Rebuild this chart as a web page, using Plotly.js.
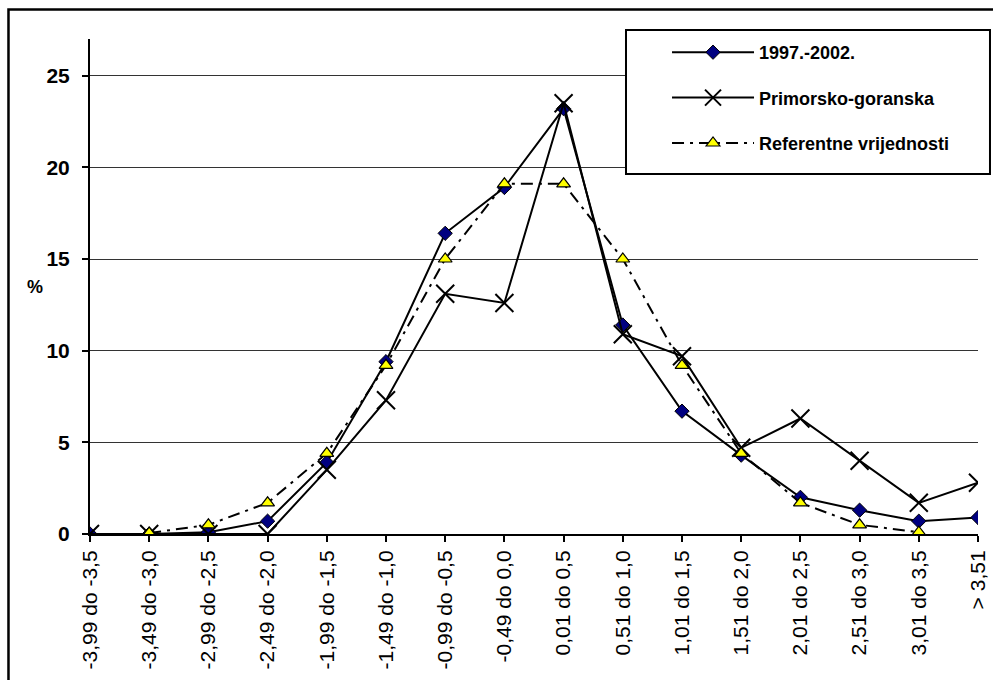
<!DOCTYPE html>
<html>
<head>
<meta charset="utf-8">
<script src="https://cdn.plot.ly/plotly-3.0.1.min.js"></script>
<style>html,body{margin:0;padding:0;background:#fff;}#chart{width:993px;height:680px;}</style>
</head>
<body>
<div id="chart"></div>
<script>
const categories = ["-3,99 do -3,5","-3,49 do -3,0","-2,99 do -2,5","-2,49 do -2,0","-1,99 do -1,5","-1,49 do -1,0","-0,99 do -0,5","-0,49 do 0,0","0,01 do 0,5","0,51 do 1,0","1,01 do 1,5","1,51 do 2,0","2,01 do 2,5","2,51 do 3,0","3,01 do 3,5","> 3,51"];
const series1997 = [0, 0, 0.1, 0.7, 3.9, 9.4, 16.4, 18.9, 23.2, 11.4, 6.7, 4.3, 2.0, 1.3, 0.7, 0.9];
const seriesPG = [0, 0, 0, 0, 3.5, 7.3, 13.1, 12.6, 23.5, 10.9, 9.7, 4.7, 6.3, 4.0, 1.7, 2.8];
const seriesRef = [null, 0.05, 0.5, 1.7, 4.4, 9.2, 15.0, 19.1, 19.1, 15.0, 9.2, 4.4, 1.7, 0.5, 0.1, null];
const yTicks = [0, 5, 10, 15, 20, 25];
const names = ["1997.-2002.", "Primorsko-goranska", "Referentne vrijednosti"];

const FONT = "Arial, 'Liberation Sans', sans-serif";

const traces = [
  {x: categories, y: series1997, name: names[0], type: "scatter", mode: "lines+markers", legendgroup: "a",
   line: {color: "#000", width: 2},
   marker: {symbol: "diamond", size: 11, color: "#000080", line: {color: "#000", width: 1}}},
  {x: categories, y: seriesPG, name: names[1], type: "scatter", mode: "lines+markers", legendgroup: "b",
   line: {color: "#000", width: 2},
   marker: {symbol: "x-thin-open", size: 18, color: "#000", line: {color: "#000", width: 2}}},
  {x: categories, y: seriesRef, name: names[2], type: "scatter", mode: "lines+markers", legendgroup: "c",
   connectgaps: false,
   line: {color: "#000", width: 2, dash: "12px,6px,3px,6px"},
   marker: {symbol: "triangle-up", size: 12, color: "#FFFF00", line: {color: "#000", width: 1.2}}}
];

const layout = {
  width: 993, height: 680,
  margin: {l: 90, r: 15, t: 39, b: 146},
  paper_bgcolor: "#fff", plot_bgcolor: "#fff",
  font: {family: FONT, color: "#000"},
  showlegend: true,
  legend: {
    x: 0.6498, xanchor: "left", y: 1.0101, yanchor: "top",
    bgcolor: "rgba(0,0,0,0)", bordercolor: "#000", borderwidth: 0,
    font: {family: FONT, size: 18, color: "#000", weight: "bold"},
    tracegroupgap: 19, itemwidth: 82
  },
  xaxis: {
    type: "category", categoryorder: "array", categoryarray: categories,
    range: [0, 15], showline: true, linecolor: "#000", linewidth: 2,
    ticks: "outside", ticklen: 6, tickwidth: 2, tickcolor: "#000",
    tickangle: -90, tickfont: {family: FONT, size: 21, color: "#000"},
    showgrid: false, zeroline: false, fixedrange: true
  },
  yaxis: {
    range: [0, 27], tickvals: yTicks, ticktext: yTicks.map(String),
    showline: true, linecolor: "#000", linewidth: 2,
    ticks: "outside", ticklen: 6, tickwidth: 2, tickcolor: "#000",
    tickfont: {family: FONT, size: 21, color: "#000", weight: "bold"},
    ticklabelstandoff: 8,
    showgrid: true, gridcolor: "#333", gridwidth: 1, zeroline: false, fixedrange: true
  },
  annotations: [
    {text: "%", xref: "paper", yref: "y", x: -0.0625, xanchor: "center", y: 13.5, showarrow: false,
     font: {family: FONT, size: 18, color: "#000", weight: "bold"}}
  ],
  shapes: [
    {type: "rect", xref: "paper", yref: "paper", x0: -0.0918, x1: 1.03, y0: -0.32, y1: 1.0596,
     line: {color: "#000", width: 2.5}, fillcolor: "rgba(0,0,0,0)", layer: "below"},
    {type: "rect", xref: "paper", yref: "paper", x0: 0.6036, x1: 1.0135, y0: 0.7273, y1: 1.0182,
     line: {color: "#000", width: 2}, fillcolor: "#fff", layer: "above"}
  ]
};

Plotly.newPlot("chart", traces, layout, {displayModeBar: false, staticPlot: true});
</script>
</body>
</html>
